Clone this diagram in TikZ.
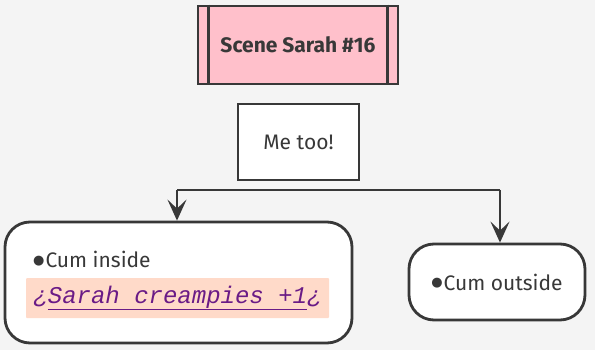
\documentclass[tikz,border=0pt]{standalone}
\usepackage{fontspec}
\setmainfont{Fira Sans}
\setmonofont{Liberation Mono}
\newfontfamily\dotfont{DejaVu Sans}
\usetikzlibrary{arrows.meta}

\definecolor{bgcol}{HTML}{F4F4F4}
\definecolor{linecol}{HTML}{383838}
\definecolor{titlecol}{HTML}{FFC0CB}
\definecolor{notecol}{HTML}{FFDAC9}
\definecolor{linkcol}{HTML}{6A1B86}

\newcommand{\itemdot}{\raisebox{4pt}{\dotfont\fontsize{13}{14}\selectfont ●}\kern1pt}

\tikzset{
  box/.style={draw=linecol, line width=2.8pt, fill=white, text=linecol,
    inner sep=0pt, font=\fontsize{21}{24}\selectfont},
  roundbox/.style={box, rounded corners=25pt},
  flow/.style={draw=linecol, line width=2.3pt},
  flowarrow/.style={flow, -{Stealth[length=21pt,width=19pt,inset=9pt]}}
}

\begin{document}
\begin{tikzpicture}[x=1pt,y=-1pt]
\fill[bgcol] (0,0) rectangle (595,350);
\useasboundingbox (0,0) rectangle (595,350);

% title
\node[box, fill=titlecol, minimum width=200pt, minimum height=78pt,
  font=\bfseries\fontsize{21}{24}\selectfont] (title) at (298,45) {Scene Sarah \#16};
\draw[box] ([xshift=12pt]title.north west) -- ([xshift=12pt]title.south west);
\draw[box] ([xshift=-12pt]title.north east) -- ([xshift=-12pt]title.south east);

\node[box, minimum width=121pt, minimum height=76pt] (metoo) at (298.5,142) {Me too!};

% branches
\node[roundbox, minimum width=347pt, minimum height=121pt] (inside) at (178.5,282.5) {};
\node[roundbox, minimum width=176pt, minimum height=76pt] (outside) at (497,282) {\itemdot Cum outside};

\node[anchor=base west, text=linecol, inner sep=0pt, font=\fontsize{21}{24}\selectfont]
  (insidetxt) at (33,268) {\itemdot Cum inside};
\node[fill=notecol, rounded corners=1pt, minimum width=303pt, minimum height=40pt,
  inner sep=0pt, text=linkcol, font=\ttfamily\itshape\fontsize{24}{26}\selectfont]
  (roll) at (177.5,298) {¿\underline{Sarah creampies +1}¿};

\coordinate (split) at (177,190);
\coordinate (splitend) at (500,190);
\draw[flow] (split) -- (splitend);
\draw[flowarrow] (split) -- (split |- inside.north);
\draw[flowarrow] (splitend) -- (splitend |- outside.north);
\end{tikzpicture}
\end{document}
